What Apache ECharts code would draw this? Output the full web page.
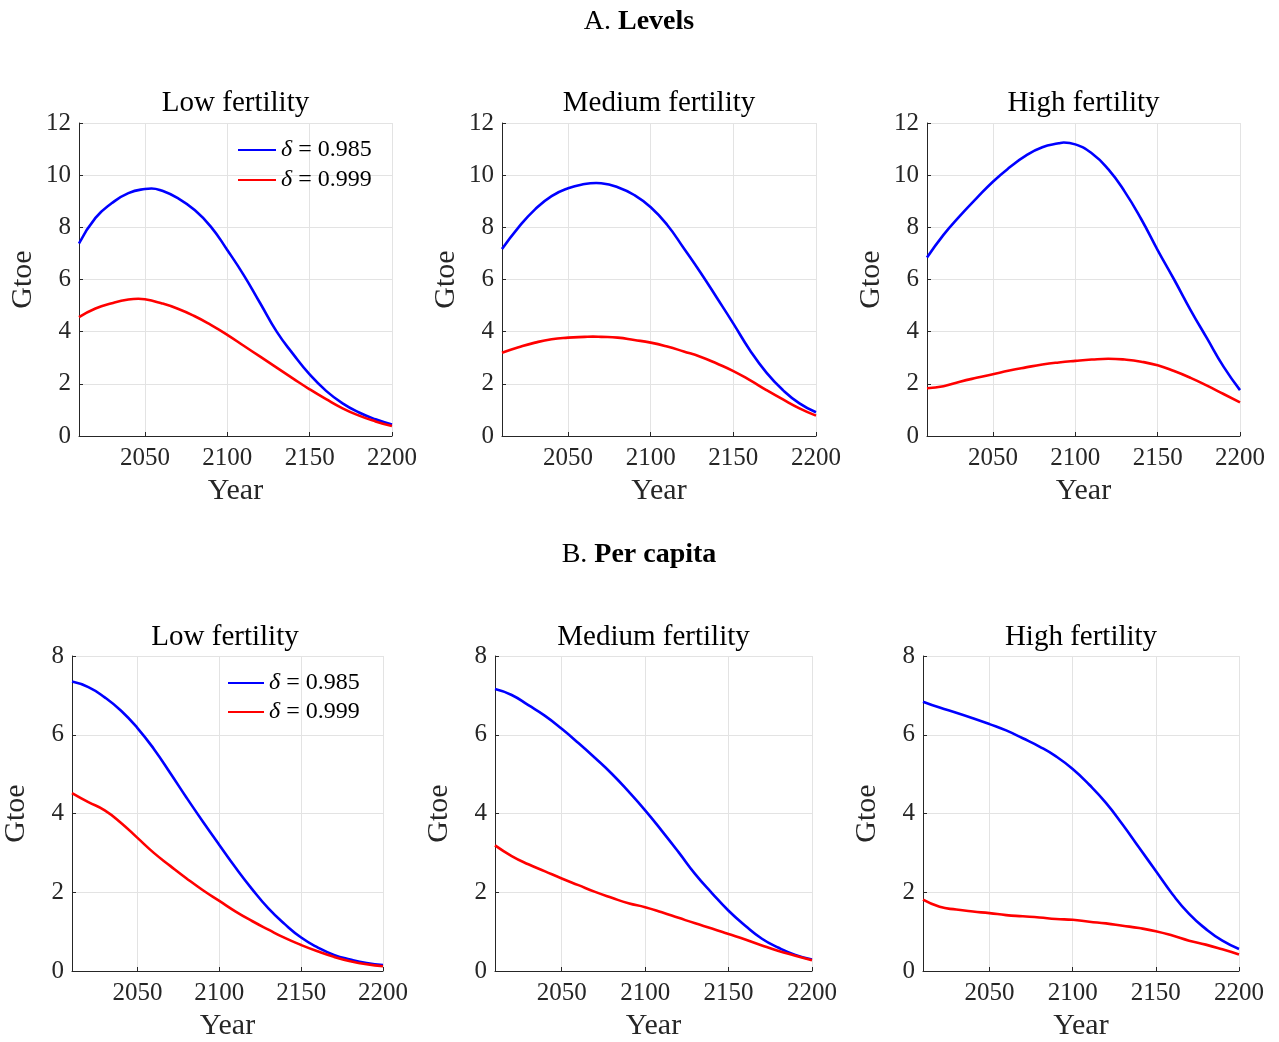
<!DOCTYPE html>
<html>
<head>
<meta charset="utf-8">
<script src="https://cdn.jsdelivr.net/npm/echarts@6/dist/echarts.min.js"></script>
<style>
  html, body { margin: 0; padding: 0; background: #fff; }
  #chart { width: 1279px; height: 1042px; }
</style>
</head>
<body>
<div id="chart"></div>
<script>
// Simulation years (every decade)
const years = [2010, 2020, 2030, 2040, 2050, 2060, 2070, 2080, 2090, 2100,
               2110, 2120, 2130, 2140, 2150, 2160, 2170, 2180, 2190, 2200];

const xTicks = [2050, 2100, 2150, 2200];
const seriesNames = ['δ = 0.985', 'δ = 0.999'];
const panelTitles = ['Low fertility', 'Medium fertility', 'High fertility'];

// A. Levels (Gtoe)
const levelsLowD985 = [7.38, 8.36, 8.93, 9.31, 9.47, 9.41, 9.12, 8.67, 8.03, 7.13,
                       6.17, 5.09, 4.00, 3.14, 2.36, 1.73, 1.25, 0.90, 0.64, 0.44];
const levelsLowD999 = [4.56, 4.89, 5.09, 5.23, 5.24, 5.09, 4.88, 4.60, 4.26, 3.88,
                       3.46, 3.04, 2.62, 2.20, 1.79, 1.41, 1.06, 0.78, 0.56, 0.38];
const levelsMedD985 = [7.17, 8.00, 8.69, 9.20, 9.50, 9.66, 9.69, 9.54, 9.24, 8.77,
                       8.09, 7.20, 6.28, 5.30, 4.31, 3.29, 2.43, 1.76, 1.25, 0.91];
const levelsMedD999 = [3.19, 3.40, 3.58, 3.71, 3.77, 3.80, 3.80, 3.77, 3.68, 3.58,
                       3.43, 3.24, 3.04, 2.78, 2.49, 2.14, 1.76, 1.40, 1.06, 0.78];
const levelsHighD985 = [6.84, 7.71, 8.44, 9.11, 9.75, 10.29, 10.75, 11.07, 11.22, 11.18,
                        10.84, 10.23, 9.37, 8.32, 7.13, 6.00, 4.83, 3.74, 2.66, 1.76];
const levelsHighD999 = [1.83, 1.91, 2.08, 2.23, 2.37, 2.51, 2.63, 2.74, 2.82, 2.88,
                        2.93, 2.96, 2.93, 2.85, 2.71, 2.49, 2.23, 1.93, 1.61, 1.29];

// Turning points of the level paths [year, Gtoe]
const levelsLowD985Peak  = [2054, 9.49];
const levelsLowD999Peak  = [2046, 5.26];
const levelsMedD985Peak  = [2067, 9.70];
const levelsMedD999Peak  = [2065, 3.81];
const levelsHighD985Peak = [2093, 11.25];

// B. Per capita
const pcLowD985 = [7.35, 7.21, 6.95, 6.61, 6.17, 5.64, 5.03, 4.40, 3.79, 3.20,
                   2.62, 2.08, 1.59, 1.19, 0.85, 0.60, 0.41, 0.29, 0.20, 0.15];
const pcLowD999 = [4.52, 4.29, 4.08, 3.76, 3.38, 3.00, 2.67, 2.35, 2.05, 1.78,
                   1.51, 1.27, 1.05, 0.84, 0.66, 0.50, 0.36, 0.25, 0.17, 0.12];
const pcMedD985 = [7.16, 7.01, 6.75, 6.48, 6.15, 5.79, 5.41, 5.01, 4.56, 4.08,
                   3.56, 3.02, 2.46, 1.98, 1.53, 1.15, 0.82, 0.59, 0.41, 0.29];
const pcMedD999 = [3.19, 2.92, 2.71, 2.53, 2.35, 2.18, 2.01, 1.86, 1.72, 1.62,
                   1.49, 1.35, 1.21, 1.08, 0.94, 0.80, 0.65, 0.51, 0.39, 0.27];
const pcHighD985 = [6.84, 6.69, 6.56, 6.42, 6.27, 6.11, 5.91, 5.70, 5.45, 5.13,
                    4.73, 4.27, 3.72, 3.13, 2.54, 1.95, 1.45, 1.07, 0.77, 0.56];
const pcHighD999 = [1.81, 1.63, 1.56, 1.51, 1.47, 1.42, 1.39, 1.36, 1.32, 1.30,
                    1.25, 1.21, 1.15, 1.09, 1.01, 0.90, 0.77, 0.67, 0.55, 0.42];

const panels = [
  { d985: levelsLowD985,  d999: levelsLowD999,  p985: levelsLowD985Peak,  p999: levelsLowD999Peak,
    yMax: 12, grid: { left: 79,  top: 123, width: 313, height: 313 } },
  { d985: levelsMedD985,  d999: levelsMedD999,  p985: levelsMedD985Peak,  p999: levelsMedD999Peak,
    yMax: 12, grid: { left: 502, top: 123, width: 314, height: 313 } },
  { d985: levelsHighD985, d999: levelsHighD999, p985: levelsHighD985Peak, p999: null,
    yMax: 12, grid: { left: 927, top: 123, width: 313, height: 313 } },
  { d985: pcLowD985,  d999: pcLowD999,  p985: null, p999: null,
    yMax: 8, grid: { left: 67,  top: 656, width: 316, height: 316 } },
  { d985: pcMedD985,  d999: pcMedD999,  p985: null, p999: null,
    yMax: 8, grid: { left: 495, top: 656, width: 317, height: 316 } },
  { d985: pcHighD985, d999: pcHighD999, p985: null, p999: null,
    yMax: 8, grid: { left: 923, top: 656, width: 316, height: 316 } }
];

const FONT = "'Liberation Serif', 'DejaVu Serif', serif";
const AXIS_DARK = '#262626';
const GRID_LIGHT = '#e3e3e3';
const BLUE = '#0000ff';
const RED = '#ff0000';

function pathData(vals, peak) {
  const pts = years.map((y, k) => [y, vals[k]]);
  if (peak) pts.push(peak.slice());
  return pts.sort((a, b) => a[0] - b[0]);
}

const grids = [], xAxes = [], yAxes = [], series = [], titles = [];

panels.forEach((p, i) => {
  grids.push(Object.assign({ containLabel: false }, p.grid));
  xAxes.push({
    type: 'value', gridIndex: i, min: 2010, max: 2200,
    name: 'Year', nameLocation: 'middle', nameGap: 40,
    nameTextStyle: { fontFamily: FONT, fontSize: 30, color: AXIS_DARK },
    axisLine: { show: true, lineStyle: { color: AXIS_DARK, width: 1 } },
    axisTick: { show: true, inside: true, length: 4, customValues: xTicks, lineStyle: { color: AXIS_DARK } },
    axisLabel: { customValues: xTicks, formatter: (v) => String(v),
                 fontFamily: FONT, fontSize: 25, color: AXIS_DARK, margin: 10 },
    splitLine: { show: true, lineStyle: { color: GRID_LIGHT, width: 1 } }
  });
  yAxes.push({
    type: 'value', gridIndex: i, min: 0, max: p.yMax, interval: 2,
    name: 'Gtoe', nameLocation: 'middle', nameGap: 41, nameRotate: 90,
    nameTextStyle: { fontFamily: FONT, fontSize: 30, color: AXIS_DARK },
    axisLine: { show: true, lineStyle: { color: AXIS_DARK, width: 1 } },
    axisTick: { show: true, inside: true, length: 4, lineStyle: { color: AXIS_DARK } },
    axisLabel: { fontFamily: FONT, fontSize: 25, color: AXIS_DARK, margin: 8 },
    splitLine: { show: true, lineStyle: { color: GRID_LIGHT, width: 1 } }
  });
  [[p.d985, p.p985, BLUE, seriesNames[0]], [p.d999, p.p999, RED, seriesNames[1]]].forEach(([vals, peak, color, name]) => {
    series.push({
      type: 'line', name, xAxisIndex: i, yAxisIndex: i,
      data: pathData(vals, peak),
      smooth: 0.5, symbol: 'none', animation: false,
      lineStyle: { color, width: 2.6 }, itemStyle: { color }
    });
  });
  const g = p.grid;
  titles.push({
    text: panelTitles[i % 3],
    left: g.left + g.width / 2, top: i < 3 ? 89 : 623,
    textAlign: 'center', padding: 0,
    textStyle: { fontFamily: FONT, fontSize: 29, fontWeight: 'normal', color: '#000' }
  });
});

// Section headings
titles.push({
  text: 'A. {b|Levels}', left: 639, top: 8, textAlign: 'center', padding: 0,
  textStyle: { fontFamily: FONT, fontSize: 28, fontWeight: 'normal', color: '#000',
    rich: { b: { fontFamily: FONT, fontSize: 28, fontWeight: 'bold', color: '#000' } } }
});
titles.push({
  text: 'B. {b|Per capita}', left: 639, top: 541, textAlign: 'center', padding: 0,
  textStyle: { fontFamily: FONT, fontSize: 28, fontWeight: 'normal', color: '#000',
    rich: { b: { fontFamily: FONT, fontSize: 28, fontWeight: 'bold', color: '#000' } } }
});

function makeLegend(left, top, iconW, gap) {
  return {
    data: seriesNames, orient: 'vertical', left, top, padding: 0,
    itemWidth: iconW, itemHeight: 12, itemGap: gap,
    itemStyle: { color: 'rgba(0,0,0,0)', borderWidth: 0 },
    formatter: (n) => '{i|δ} ' + n.slice(2),
    textStyle: {
      fontFamily: FONT, fontSize: 24, color: '#000', lineHeight: 24,
      rich: { i: { fontFamily: FONT, fontSize: 24, fontStyle: 'italic', color: '#000' } }
    },
    selectedMode: false
  };
}

const chart = echarts.init(document.getElementById('chart'), null, { renderer: 'canvas' });
chart.setOption({
  backgroundColor: '#fff',
  animation: false,
  title: titles,
  legend: [makeLegend(237, 138, 38, 6), makeLegend(227, 671, 36, 5)],
  grid: grids, xAxis: xAxes, yAxis: yAxes, series
});
</script>
</body>
</html>
